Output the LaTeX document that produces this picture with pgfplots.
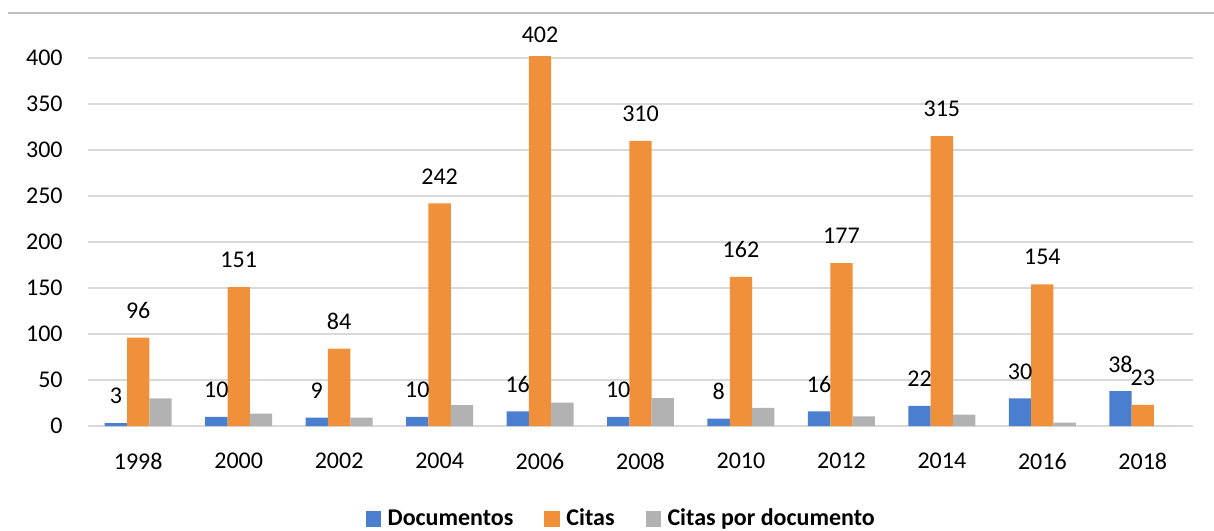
\documentclass[border=0pt]{standalone}
\usepackage{pgfplots}
\pgfplotsset{compat=1.18}
\usepackage{pgfplotstable}
\usepackage{fontspec}
\setmainfont{Carlito}
\definecolor{cblue}{HTML}{4A7FCF}
\definecolor{corange}{HTML}{F0903A}
\definecolor{cgray}{HTML}{B2B2B2}
\definecolor{gridc}{HTML}{D9D9D9}
\definecolor{framec}{HTML}{BFBFBF}
\pgfplotstableread{
x doc cit cpd off
0 3 96 30 13.5
1 10 151 13.4 13.5
2 9 84 9.1 13.5
3 10 242 22.8 13.5
4 16 402 25.4 10.5
5 10 310 30.4 13.5
6 8 162 19.6 13.5
7 16 177 10.5 13.5
8 22 315 12.4 13.5
9 30 154 3.7 13.5
10 38 23 0 13.5
}\datatable
\begin{document}
\begin{tikzpicture}
\useasboundingbox (-44pt,-52pt) rectangle (563pt,213pt);
\begin{axis}[
  scale only axis,
  width=552.5pt, height=184pt,
  xmin=-0.5, xmax=10.5,
  ymin=0, ymax=400,
  clip=false,
  axis line style={draw=none},
  ymajorgrids, grid style={gridc, line width=0.8pt},
  ytick={0,50,...,400},
  xtick={0,...,10},
  xticklabels={1998,2000,2002,2004,2006,2008,2010,2012,2014,2016,2018},
  major tick length=0pt,
  /pgf/number format/assume math mode=true,
  tick label style={font=\fontsize{12}{14}\selectfont, text=black},
  yticklabel style={anchor=east, inner sep=0pt, xshift=-12.5pt},
  xticklabel style={anchor=north, inner sep=0pt, yshift=-13.5pt},
  bar width=0.2222,
  legend columns=-1,
  legend style={at={(0.483,-0.2527)}, anchor=center, draw=none,
    font=\fontsize{12}{14}\selectfont\bfseries,
    /tikz/every even column/.append style={column sep=14pt},
    nodes={inner sep=1.5pt}},
  legend image code/.code={\fill[#1] (0pt,-3.9pt) rectangle (7.8pt,3.9pt); \path (9.5pt,0pt);},
  nodes near coords style={font=\fontsize{12}{14}\selectfont, text=black, anchor=center},
]
\addplot[ybar, fill=cblue, draw=none, bar shift=0, nodes near coords,
  nodes near coords style={yshift=13.5pt}] table[x expr=\thisrow{x}-0.2222, y=doc] {\datatable};
\addlegendentry{Documentos}
\addplot[ybar, fill=corange, draw=none, bar shift=0, nodes near coords,
  visualization depends on={\thisrow{off} \as \labeloff},
  nodes near coords style={yshift=\labeloff pt}] table[x=x, y=cit] {\datatable};
\addlegendentry{Citas}
\addplot[ybar, fill=cgray, draw=none, bar shift=0] table[x expr=\thisrow{x}+0.2222, y=cpd] {\datatable};
\addlegendentry{Citas por documento}
\draw[framec, line width=1pt] (rel axis cs:-0.0724,1.1223) -- (rel axis cs:1.02,1.1223);
\end{axis}
\end{tikzpicture}
\end{document}
